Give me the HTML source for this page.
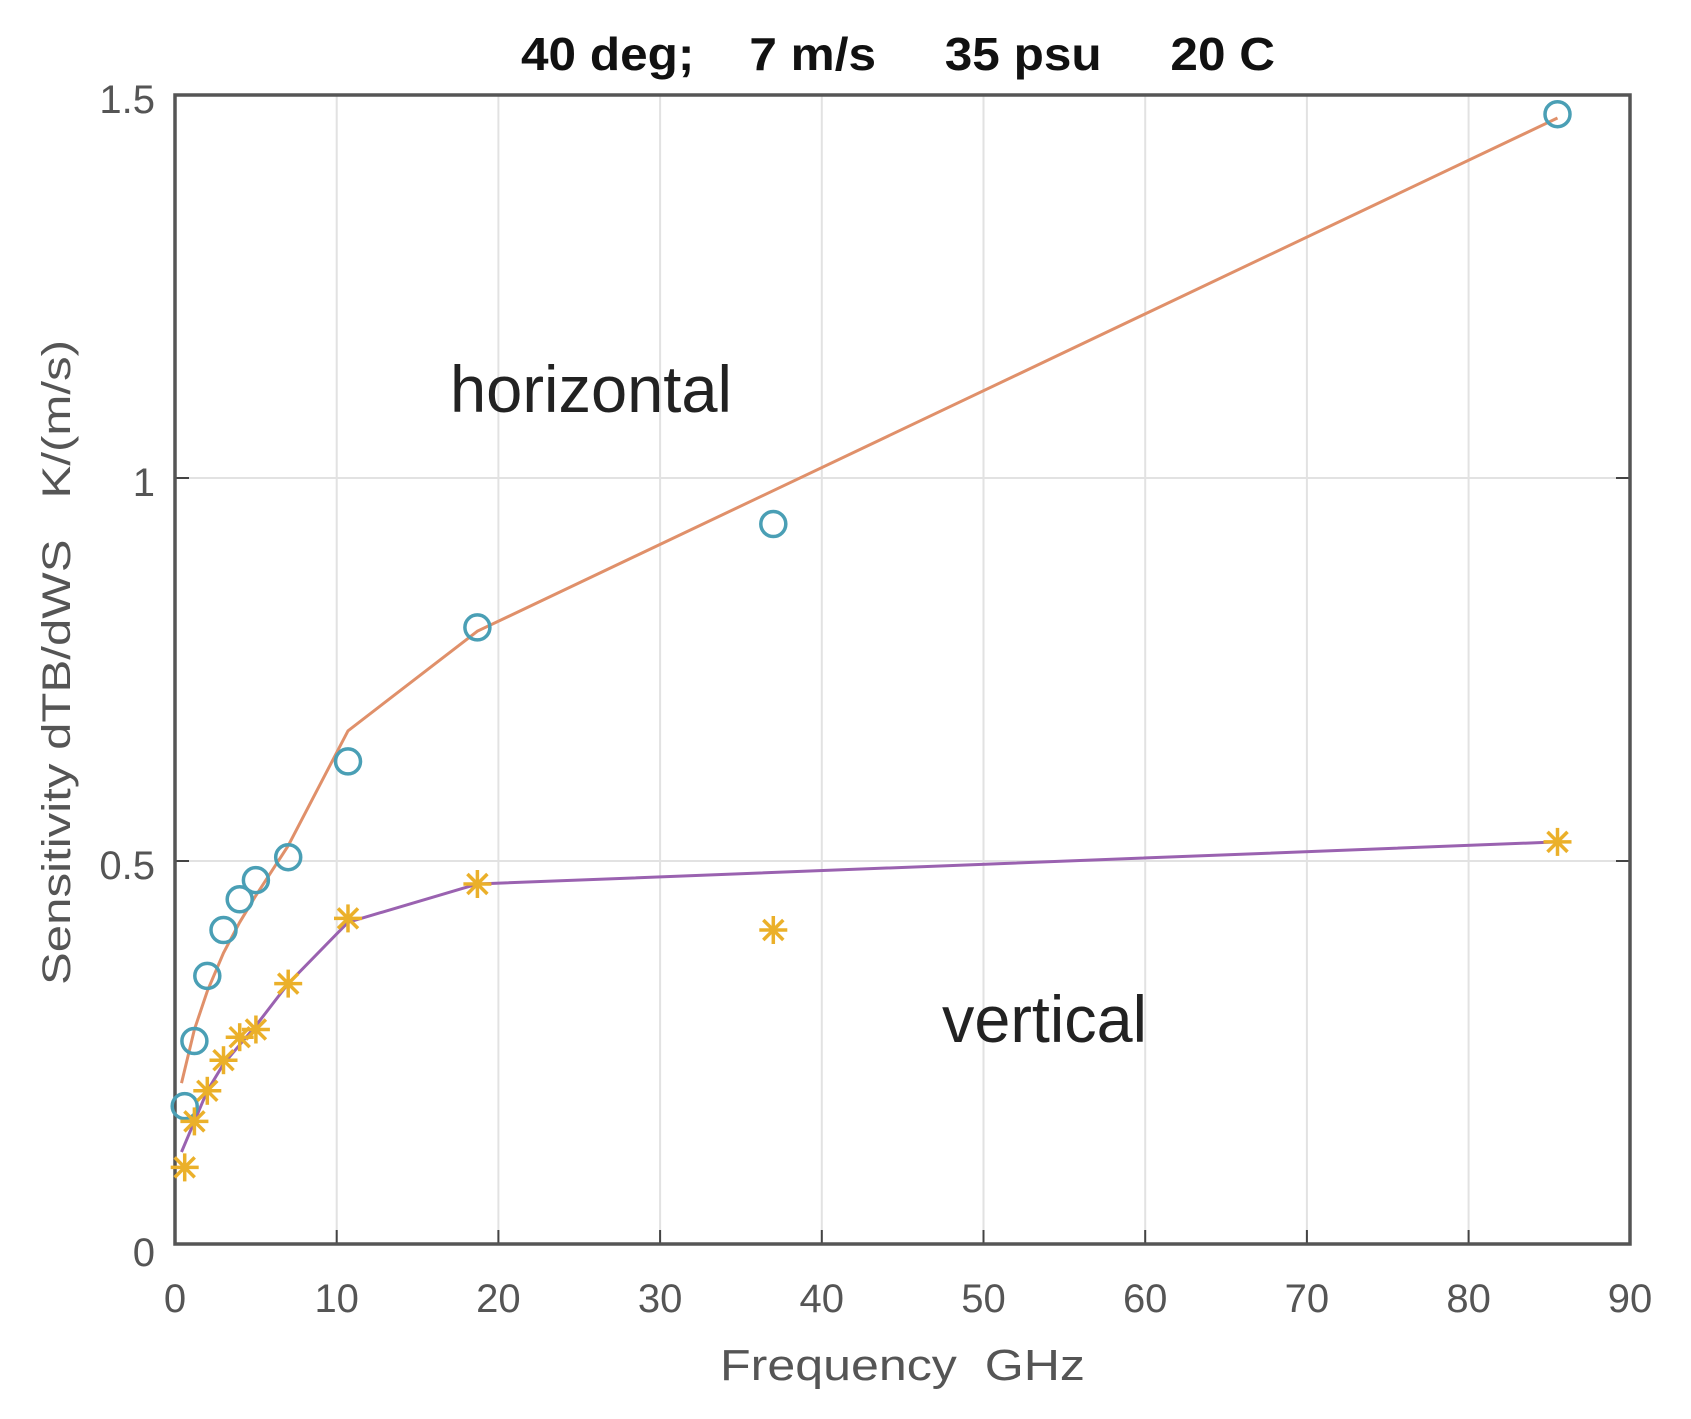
<!DOCTYPE html>
<html><head><meta charset="utf-8"><style>html,body{margin:0;padding:0;background:#fff}svg{display:block}</style></head>
<body>
<svg width="1691" height="1419" viewBox="0 0 1691 1419" xmlns="http://www.w3.org/2000/svg" font-family="Liberation Sans, sans-serif">
<rect width="1691" height="1419" fill="#fff"/>
<g stroke="#e2e2e2" stroke-width="2">
<line x1="336.7" y1="95" x2="336.7" y2="1244"/><line x1="498.4" y1="95" x2="498.4" y2="1244"/>
<line x1="660.1" y1="95" x2="660.1" y2="1244"/><line x1="821.8" y1="95" x2="821.8" y2="1244"/>
<line x1="983.5" y1="95" x2="983.5" y2="1244"/><line x1="1145.2" y1="95" x2="1145.2" y2="1244"/>
<line x1="1306.9" y1="95" x2="1306.9" y2="1244"/><line x1="1468.6" y1="95" x2="1468.6" y2="1244"/>
<line x1="175" y1="861" x2="1630" y2="861"/><line x1="175" y1="478" x2="1630" y2="478"/>
</g>
<g stroke="#444" stroke-width="2">
<line x1="336.7" y1="1244" x2="336.7" y2="1230"/><line x1="498.4" y1="1244" x2="498.4" y2="1230"/>
<line x1="660.1" y1="1244" x2="660.1" y2="1230"/><line x1="821.8" y1="1244" x2="821.8" y2="1230"/>
<line x1="983.5" y1="1244" x2="983.5" y2="1230"/><line x1="1145.2" y1="1244" x2="1145.2" y2="1230"/>
<line x1="1306.9" y1="1244" x2="1306.9" y2="1230"/><line x1="1468.6" y1="1244" x2="1468.6" y2="1230"/>
<line x1="175" y1="861" x2="189" y2="861"/><line x1="175" y1="478" x2="189" y2="478"/>
<line x1="1630" y1="861" x2="1616" y2="861"/><line x1="1630" y1="478" x2="1616" y2="478"/>
</g>
<rect x="175" y="95" width="1455" height="1149" fill="none" stroke="#555" stroke-width="3.5"/>
<polyline fill="none" stroke="#e0906a" stroke-width="3" points="181.5,1083.1 194.4,1029.5 207.3,991.2 223.5,952.9 239.7,922.3 255.9,895.5 288.2,845.7 348,730.8 477.4,631.2 1557.5,118"/>
<polyline fill="none" stroke="#9a62b0" stroke-width="3" points="181.5,1152 194.4,1121.4 207.3,1090.8 223.5,1064 239.7,1044.8 255.9,1025.7 288.2,983.6 348,922.3 477.4,884 1557.5,841.9"/>
<g fill="none" stroke="#4a9fb5" stroke-width="3.5">
<circle cx="184.7" cy="1106.1" r="12.5"/><circle cx="194.4" cy="1041" r="12.5"/><circle cx="207.3" cy="975.9" r="12.5"/>
<circle cx="223.5" cy="930" r="12.5"/><circle cx="239.7" cy="899.3" r="12.5"/><circle cx="255.9" cy="880.1" r="12.5"/>
<circle cx="288.2" cy="857.2" r="12.5"/><circle cx="348" cy="761.4" r="12.5"/><circle cx="477.4" cy="627.4" r="12.5"/>
<circle cx="773.3" cy="524" r="12.5"/><circle cx="1557.5" cy="114.2" r="12.5"/>
</g>
<defs><g id="s" stroke="#ebb02a" stroke-width="3.5"><line x1="-14" y1="0" x2="14" y2="0"/><line x1="0" y1="-14" x2="0" y2="14"/><line x1="-10" y1="-10" x2="10" y2="10"/><line x1="-10" y1="10" x2="10" y2="-10"/></g></defs>
<use href="#s" x="184.7" y="1167.4"/><use href="#s" x="194.4" y="1121.4"/><use href="#s" x="207.3" y="1090.8"/>
<use href="#s" x="223.5" y="1060.2"/><use href="#s" x="239.7" y="1037.2"/><use href="#s" x="255.9" y="1029.5"/>
<use href="#s" x="288.2" y="983.6"/><use href="#s" x="348" y="918.4"/><use href="#s" x="477.4" y="884"/>
<use href="#s" x="773.3" y="930"/><use href="#s" x="1557.5" y="841.9"/>
<text x="521" y="70" font-size="46" font-weight="bold" fill="#111" textLength="754" lengthAdjust="spacingAndGlyphs" xml:space="preserve">40 deg;    7 m/s     35 psu     20 C</text>
<g font-size="40" fill="#555" text-anchor="end">
<text x="155" y="113">1.5</text><text x="155" y="496">1</text><text x="155" y="879">0.5</text><text x="155" y="1266">0</text>
</g>
<g font-size="40" fill="#555" text-anchor="middle">
<text x="175" y="1312">0</text><text x="336.7" y="1312">10</text><text x="498.4" y="1312">20</text><text x="660.1" y="1312">30</text>
<text x="821.8" y="1312">40</text><text x="983.5" y="1312">50</text><text x="1145.2" y="1312">60</text><text x="1306.9" y="1312">70</text>
<text x="1468.6" y="1312">80</text><text x="1630" y="1312">90</text>
</g>
<text x="720" y="1380" font-size="44" fill="#555" textLength="365" lengthAdjust="spacingAndGlyphs" xml:space="preserve">Frequency  GHz</text>
<text transform="translate(70,985) rotate(-90)" font-size="40" fill="#555" textLength="645" lengthAdjust="spacingAndGlyphs" xml:space="preserve">Sensitivity dTB/dWS   K/(m/s)</text>
<text x="450" y="412" font-size="66" fill="#222" textLength="282" lengthAdjust="spacingAndGlyphs">horizontal</text>
<text x="942" y="1042" font-size="66" fill="#222" textLength="205" lengthAdjust="spacingAndGlyphs">vertical</text>
</svg>
</body></html>
